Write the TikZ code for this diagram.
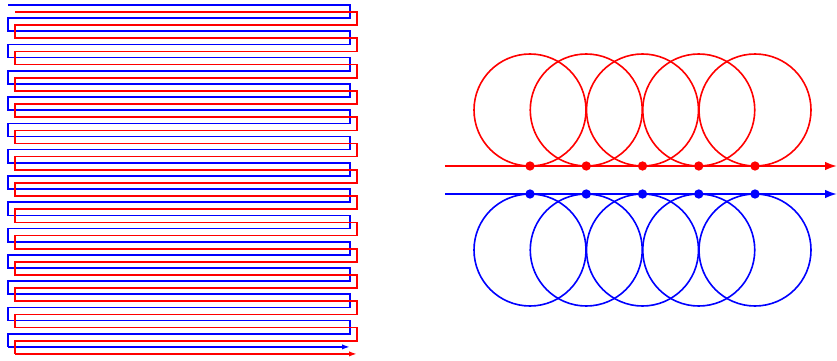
\documentclass[tikz,border=0pt]{standalone}
\usetikzlibrary{arrows.meta}
\begin{document}
\begin{tikzpicture}[x=0.75pt, y=-0.75pt,
  wire/.style={line width=1.25pt},
  wirehead/.style={wire, -{Latex[length=6pt, width=4pt]}},
  axis/.style={line width=1.5pt, -{Latex[length=9pt, width=6.5pt]}},
  ring/.style={line width=1.2pt},
  dot/.style={circle, fill, inner sep=0pt, minimum size=7pt}]
\useasboundingbox (0,0) rectangle (837,360);
\def\dy{13.15}
\def\dc{56.25}
% serpentine wires: blue, and red shifted by (7,7)
\foreach \col/\dx in {blue/0, red/7} {
  \draw[wire, \col] (8+\dx,5+\dx)
    \foreach \i in {0,...,12} {
      -- (350+\dx,{5+\dx+2*\i*\dy}) -- (350+\dx,{5+\dx+(2*\i+1)*\dy})
      -- (8+\dx,{5+\dx+(2*\i+1)*\dy}) -- (8+\dx,{5+\dx+(2*\i+2)*\dy})
    };
  \coordinate (\col s) at (8+\dx,{5+\dx+26*\dy});
  \coordinate (\col e) at (350+\dx,{5+\dx+26*\dy});
  \draw[wirehead, \col] (\col s) -- (\col e);
}
% axes with rolling circles
\foreach \col/\ya/\yc in {red/166/110, blue/194/250} {
  \coordinate (\col a) at (445,\ya);
  \coordinate (\col b) at (837,\ya);
  \draw[axis, \col] (\col a) -- (\col b);
  \foreach \i in {0,...,4} {
    \draw[ring, \col] ({530+\i*\dc},\yc) circle[radius=56];
    \node[dot, \col] (\col\i) at ({530+\i*\dc},\ya) {};
  }
}
\end{tikzpicture}
\end{document}
